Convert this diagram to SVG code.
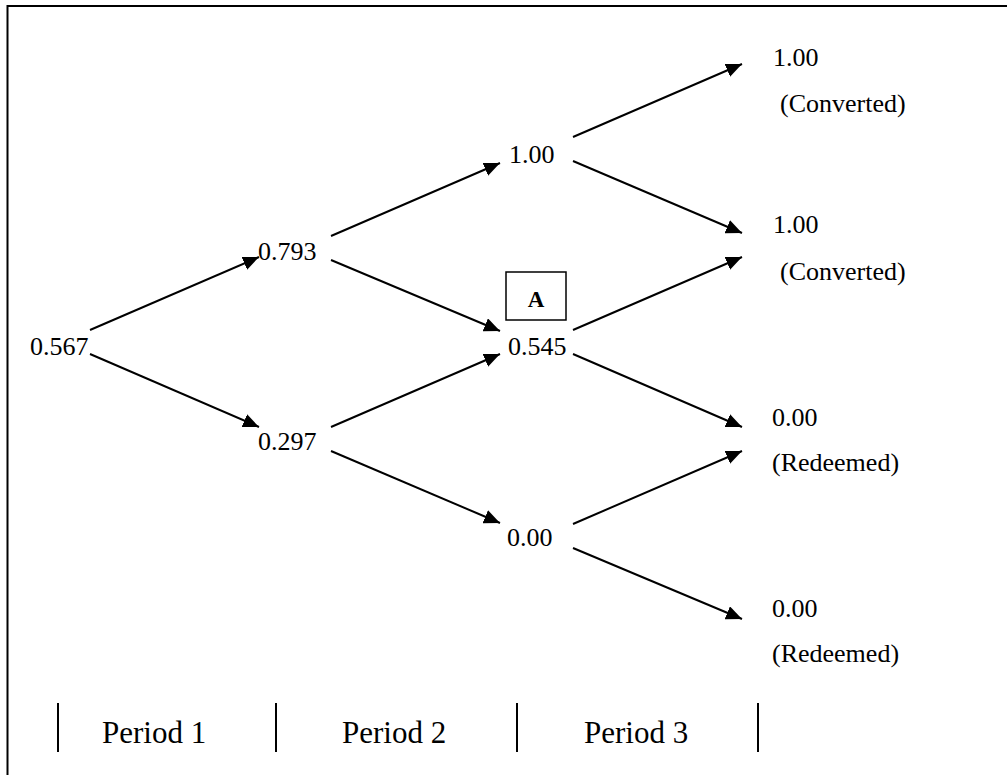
<svg xmlns="http://www.w3.org/2000/svg" width="1007" height="775" viewBox="0 0 1007 775">
<style>
.t{font-family:"Liberation Serif","Times New Roman",serif;font-size:26px;fill:#000}
.p{font-family:"Liberation Serif","Times New Roman",serif;font-size:31px;fill:#000}
.a{font-family:"Liberation Serif","Times New Roman",serif;font-size:23px;font-weight:bold;fill:#000}
.e{stroke:#000;stroke-width:2;fill:none;marker-end:url(#ah)}
.d{stroke:#000;stroke-width:2}
</style>
<defs>
<marker id="ah" markerUnits="userSpaceOnUse" markerWidth="18" markerHeight="14" refX="16" refY="7" orient="auto">
<polygon points="0,0 16,7 0,14" fill="#000"/>
</marker>
</defs>
<rect width="1007" height="775" fill="#fff"/>
<g id="frame">
<line x1="7.5" y1="6" x2="1007" y2="6" stroke="#000" stroke-width="2"/>
<line x1="7.5" y1="5" x2="7.5" y2="775" stroke="#000" stroke-width="2"/>
</g>
<g id="connectors">
<line class="e" x1="90" y1="330" x2="259" y2="257"/>
<line class="e" x1="90" y1="354" x2="259" y2="427"/>
<line class="e" x1="331" y1="236" x2="500" y2="163"/>
<line class="e" x1="331" y1="260" x2="500" y2="331"/>
<line class="e" x1="331" y1="427" x2="500" y2="354"/>
<line class="e" x1="331" y1="451" x2="500" y2="523"/>
<line class="e" x1="573" y1="137" x2="742" y2="64"/>
<line class="e" x1="573" y1="161" x2="742" y2="233"/>
<line class="e" x1="573" y1="330" x2="742" y2="257"/>
<line class="e" x1="573" y1="354" x2="742" y2="427"/>
<line class="e" x1="573" y1="524" x2="742" y2="451"/>
<line class="e" x1="573" y1="548" x2="742" y2="619"/>
</g>
<g id="n0"><text class="t" x="30" y="355">0.567</text></g>
<g id="n1"><text class="t" x="258" y="260">0.793</text></g>
<g id="n2"><text class="t" x="258" y="450">0.297</text></g>
<g id="n3"><text class="t" x="509" y="163">1.00</text></g>
<g id="n4"><text class="t" x="508" y="355">0.545</text></g>
<g id="n5"><text class="t" x="507" y="546">0.00</text></g>
<g id="boxA">
<rect x="506" y="272" width="60" height="48" fill="none" stroke="#000" stroke-width="1.5"/>
<text class="a" x="536" y="307" text-anchor="middle">A</text>
</g>
<g id="n6"><text class="t" x="773" y="66">1.00</text><text class="t" x="780" y="112">(Converted)</text></g>
<g id="n7"><text class="t" x="773" y="233">1.00</text><text class="t" x="780" y="280">(Converted)</text></g>
<g id="n8"><text class="t" x="772" y="426">0.00</text><text class="t" x="772" y="471">(Redeemed)</text></g>
<g id="n9"><text class="t" x="772" y="617">0.00</text><text class="t" x="772" y="662">(Redeemed)</text></g>
<g id="periods">
<line class="d" x1="58" y1="703" x2="58" y2="752"/>
<line class="d" x1="276" y1="703" x2="276" y2="752"/>
<line class="d" x1="517" y1="703" x2="517" y2="752"/>
<line class="d" x1="758" y1="703" x2="758" y2="752"/>
<text class="p" x="102" y="743">Period 1</text>
<text class="p" x="342" y="743">Period 2</text>
<text class="p" x="584" y="743">Period 3</text>
</g>
</svg>
